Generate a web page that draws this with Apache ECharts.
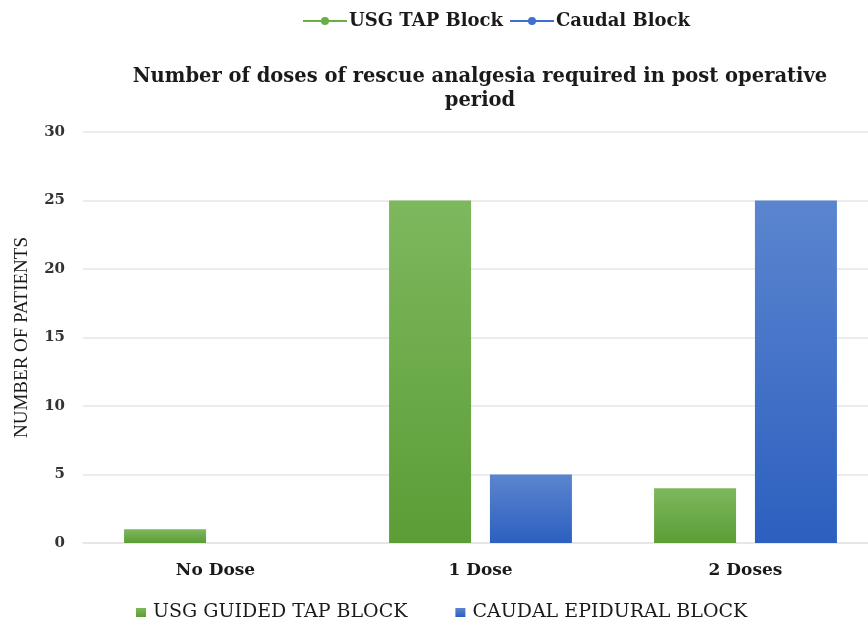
<!DOCTYPE html>
<html>
<head>
<meta charset="utf-8">
<script src="https://cdn.jsdelivr.net/npm/echarts@6/dist/echarts.min.js"></script>
<style>
  html, body { margin: 0; padding: 0; background: #ffffff; }
  #chart { width: 868px; height: 625px; }
</style>
</head>
<body>
<div id="chart"></div>
<script>
// Rescue analgesia doses by group
const categories = ['No Dose', '1 Dose', '2 Doses'];
const tapBlock = [1, 25, 4];
const caudalBlock = [0, 5, 25];
const yTicks = { min: 0, max: 30, interval: 5 };

const wideSerif = '"DejaVu Serif", "Liberation Serif", serif';
const serif = '"Liberation Serif", "DejaVu Serif", serif';

function grad(top, bottom) {
  return new echarts.graphic.LinearGradient(0, 0, 0, 1, [
    { offset: 0, color: top },
    { offset: 1, color: bottom }
  ]);
}

const chart = echarts.init(document.getElementById('chart'), null, { renderer: 'canvas' });

chart.setOption({
  backgroundColor: '#ffffff',
  animation: false,
  title: {
    text: 'Number of doses of rescue analgesia required in post operative\nperiod',
    left: 475,
    top: 60,
    textAlign: 'center',
    textStyle: {
      fontFamily: wideSerif,
      fontWeight: 'bold',
      fontSize: 19.5,
      lineHeight: 24,
      color: '#1a1a1a'
    }
  },
  legend: [
    {
      data: ['USG TAP Block', 'Caudal Block'],
      top: 7,
      left: 297,
      itemWidth: 44,
      itemHeight: 10,
      itemGap: 6,
      textStyle: { fontFamily: wideSerif, fontWeight: 'bold', fontSize: 18, color: '#1a1a1a', padding: [0, 0, 0, -3] }
    },
    {
      data: ['USG GUIDED TAP BLOCK', 'CAUDAL EPIDURAL BLOCK'],
      bottom: -2,
      left: 131,
      icon: 'rect',
      itemWidth: 10,
      itemHeight: 9,
      itemGap: 48,
      textStyle: { fontFamily: wideSerif, fontSize: 19, color: '#1a1a1a', padding: [0, 0, 0, 2] }
    }
  ],
  grid: { left: 83, width: 795, top: 132, height: 411, outerBoundsMode: 'none' },
  xAxis: {
    type: 'category',
    data: categories,
    axisLine: { show: true, lineStyle: { color: '#e3e3e3', width: 1.5 } },
    axisTick: { show: false },
    axisLabel: { fontFamily: wideSerif, fontWeight: 'bold', fontSize: 17, color: '#1a1a1a', margin: 19 }
  },
  yAxis: {
    type: 'value',
    min: yTicks.min,
    max: yTicks.max,
    interval: yTicks.interval,
    name: 'NUMBER OF PATIENTS',
    nameLocation: 'middle',
    nameGap: 51,
    nameTextStyle: { fontFamily: serif, fontSize: 19, color: '#1a1a1a' },
    axisLine: { show: false },
    axisTick: { show: false },
    splitLine: { lineStyle: { color: '#e6e6e6', width: 1.5 } },
    axisLabel: { fontFamily: wideSerif, fontWeight: 'bold', fontSize: 15, color: '#333333', margin: 18 }
  },
  series: [
    {
      name: 'USG GUIDED TAP BLOCK',
      type: 'bar',
      data: tapBlock,
      barWidth: 82,
      barGap: '23%',
      itemStyle: { color: grad('#7db85e', '#5c9d36') }
    },
    {
      name: 'CAUDAL EPIDURAL BLOCK',
      type: 'bar',
      data: caudalBlock,
      barWidth: 82,
      itemStyle: { color: grad('#5b85cf', '#2c5fbf') }
    },
    {
      name: 'USG TAP Block',
      type: 'line',
      data: [],
      symbol: 'circle',
      symbolSize: 9,
      itemStyle: { color: '#6aad45' },
      lineStyle: { color: '#6aad45', width: 2 }
    },
    {
      name: 'Caudal Block',
      type: 'line',
      data: [],
      symbol: 'circle',
      symbolSize: 9,
      itemStyle: { color: '#3f70cf' },
      lineStyle: { color: '#3f70cf', width: 2 }
    }
  ]
});
</script>
</body>
</html>
